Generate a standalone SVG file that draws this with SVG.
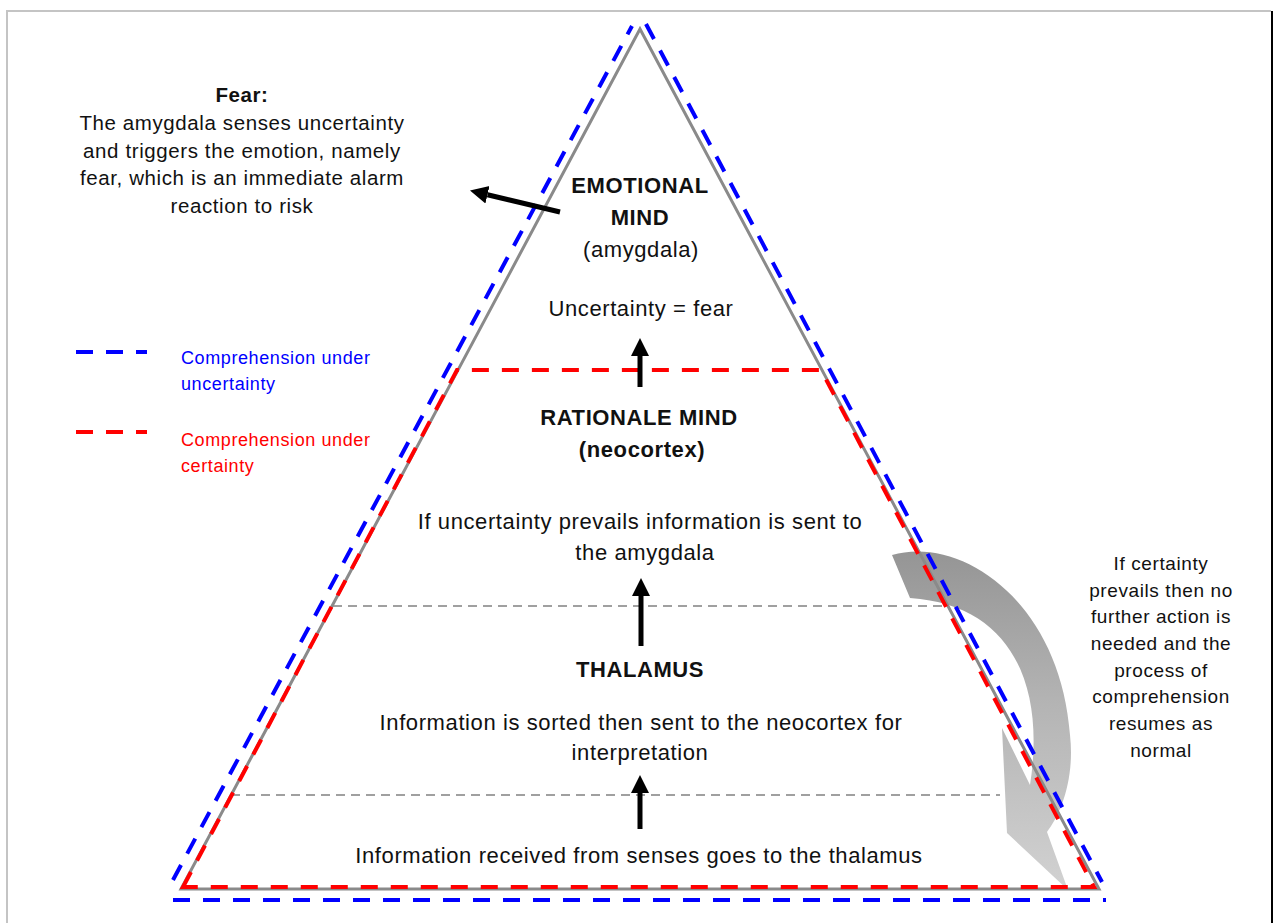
<svg xmlns="http://www.w3.org/2000/svg" width="1276" height="923" viewBox="0 0 1276 923">
<style>
text{font-family:"Liberation Sans",Arial,sans-serif;fill:#111;letter-spacing:0.6px}
.m{font-size:22px;text-anchor:middle}
.mb{font-size:22px;font-weight:bold;text-anchor:middle}
.f{font-size:20.5px;text-anchor:middle}
.r{font-size:19px;text-anchor:middle}
.lg{font-size:18px}
.blue{stroke:#0000ff;stroke-width:4;fill:none;stroke-dasharray:17 13}
.red{stroke:#ff0000;stroke-width:4;fill:none;stroke-dasharray:17 13}
.grid{stroke:#a0a0a0;stroke-width:2;fill:none;stroke-dasharray:9 6}
.arr{stroke:#000;stroke-width:5;fill:none;marker-end:url(#ah)}
</style>
<defs>
<marker id="ah" markerUnits="userSpaceOnUse" markerWidth="20" markerHeight="20" refX="0" refY="9" orient="auto" viewBox="0 0 20 18">
<path d="M0,0 L18,9 L0,18 Z" fill="#000"/>
</marker>
<linearGradient id="cg" x1="0" y1="0" x2="0" y2="1">
<stop offset="0" stop-color="#959595"/>
<stop offset="0.45" stop-color="#b4b4b4"/>
<stop offset="1" stop-color="#d2d2d2"/>
</linearGradient>
</defs>
<rect x="0" y="0" width="1276" height="923" fill="#ffffff"/>
<g id="frame">
<path d="M7,923 V11 H1271" stroke="#c4c4c4" stroke-width="2" fill="none"/>
<path d="M1272,11 V923" stroke="#000" stroke-width="2" fill="none"/>
</g>
<g id="levels">
<line class="grid" x1="333" y1="606" x2="945" y2="606"/>
<line class="grid" x1="231" y1="795" x2="1000" y2="795"/>
</g>
<g id="certainty-return-arrow">
<path d="M892,555 C960,535 1060,600 1070,735 C1075,780 1060,815 1047,832 L1068,890 L1007,833 L1002,728 L1030,785 C1045,690 1015,605 910,598 Z" fill="url(#cg)"/>
</g>
<g id="pyramid">
<path d="M181,889 L640,29 L1099,889 Z" stroke="#8a8a8a" stroke-width="3" fill="none" stroke-linejoin="miter"/>
</g>
<g id="certainty-outline">
<path class="red" d="M183,887 L457,370 L821,370 L1094,887 Z"/>
</g>
<g id="uncertainty-outline">
<path class="blue" d="M173,880 L632,26"/>
<path class="blue" d="M646,24 L1102,882"/>
<path class="blue" d="M173,900 L1106,900"/>
</g>
<g id="connectors">
<line class="arr" x1="560" y1="212" x2="487.5" y2="194.7"/>
<line class="arr" x1="640" y1="387" x2="640" y2="356"/>
<line class="arr" x1="641" y1="646" x2="641" y2="596"/>
<line class="arr" x1="640" y1="829" x2="640" y2="793"/>
</g>
<g id="fear-note">
<text class="f" x="242" y="102" font-weight="bold">Fear:</text>
<text class="f" x="242" y="130">The amygdala senses uncertainty</text>
<text class="f" x="242" y="158">and triggers the emotion, namely</text>
<text class="f" x="242" y="185">fear, which is an immediate alarm</text>
<text class="f" x="242" y="213">reaction to risk</text>
</g>
<g id="legend">
<line class="blue" x1="76" y1="352" x2="147" y2="352"/>
<text class="lg" x="181" y="364" style="fill:#0000ff">Comprehension under</text>
<text class="lg" x="181" y="390" style="fill:#0000ff">uncertainty</text>
<line class="red" x1="76" y1="432" x2="147" y2="432"/>
<text class="lg" x="181" y="446" style="fill:#ff0000">Comprehension under</text>
<text class="lg" x="181" y="472" style="fill:#ff0000">certainty</text>
</g>
<g id="emotional-mind">
<text class="mb" x="640" y="193">EMOTIONAL</text>
<text class="mb" x="640" y="225">MIND</text>
<text class="m" x="641" y="257">(amygdala)</text>
<text class="m" x="641" y="316">Uncertainty = fear</text>
</g>
<g id="rationale-mind">
<text class="mb" x="639" y="425">RATIONALE MIND</text>
<text class="mb" x="642" y="457">(neocortex)</text>
<text class="m" x="640" y="529">If uncertainty prevails information is sent to</text>
<text class="m" x="645" y="560">the amygdala</text>
</g>
<g id="thalamus">
<text class="mb" x="640" y="677">THALAMUS</text>
<text class="m" x="641" y="730">Information is sorted then sent to the neocortex for</text>
<text class="m" x="640" y="760">interpretation</text>
</g>
<g id="senses">
<text class="m" x="639" y="863">Information received from senses goes to the thalamus</text>
</g>
<g id="certainty-note">
<text class="r" x="1161" y="570">If certainty</text>
<text class="r" x="1161" y="597">prevails then no</text>
<text class="r" x="1161" y="623">further action is</text>
<text class="r" x="1161" y="650">needed and the</text>
<text class="r" x="1161" y="677">process of</text>
<text class="r" x="1161" y="703">comprehension</text>
<text class="r" x="1161" y="730">resumes as</text>
<text class="r" x="1161" y="757">normal</text>
</g>
</svg>
